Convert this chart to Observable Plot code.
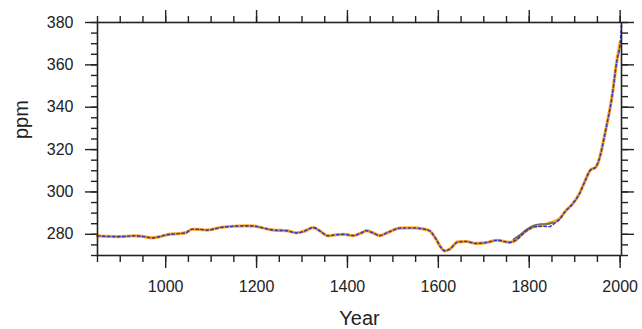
<!DOCTYPE html>
<html>
<head>
<meta charset="utf-8">
<script src="https://cdn.jsdelivr.net/npm/d3@7"></script>
<script src="https://cdn.jsdelivr.net/npm/@observablehq/plot@0.6"></script>
<style>
  html, body { margin: 0; padding: 0; background: #fff; }
  #chart svg { display: block; }
</style>
</head>
<body>
<div id="chart"></div>
<script>
// Orange (thick) reconstruction
const orangeYears = [850, 875, 900, 930, 950, 970, 985, 1003, 1032, 1045, 1058, 1075, 1091, 1120, 1150, 1175, 1195, 1210, 1237, 1266, 1288, 1305, 1325, 1340, 1357, 1375, 1393, 1413, 1430, 1442, 1455, 1471, 1490, 1515, 1543, 1565, 1581, 1595, 1605, 1614, 1625, 1643, 1661, 1683, 1705, 1730, 1756, 1767, 1792, 1814, 1830, 1844, 1866, 1880, 1895, 1910, 1920, 1935, 1946, 1953, 1968, 1982, 1993, 2000];
const orangePpm   = [279.3, 279.0, 278.9, 279.3, 279.0, 278.3, 278.8, 279.8, 280.4, 280.8, 282.4, 282.3, 282.0, 283.2, 283.8, 284.0, 283.9, 283.2, 282.0, 281.7, 280.7, 281.5, 283.2, 281.5, 279.3, 279.8, 280.0, 279.4, 280.6, 281.7, 280.8, 279.4, 281.0, 282.9, 283.0, 282.6, 281.6, 277.7, 274.0, 272.2, 273.0, 276.4, 276.6, 275.7, 276.1, 277.2, 276.2, 276.8, 281.5, 284.0, 284.3, 285.3, 287.2, 291.0, 294.3, 299.0, 303.8, 310.4, 311.6, 314.8, 329.0, 344.8, 362.2, 370.5];
// Blue (dashed) series
const blueYears = [850, 875, 900, 930, 950, 970, 985, 1003, 1032, 1045, 1058, 1075, 1091, 1120, 1150, 1175, 1195, 1210, 1237, 1266, 1288, 1305, 1325, 1340, 1357, 1375, 1393, 1413, 1430, 1442, 1455, 1471, 1490, 1515, 1543, 1565, 1581, 1595, 1605, 1614, 1625, 1643, 1661, 1683, 1705, 1730, 1756, 1767, 1792, 1814, 1830, 1844, 1856, 1866, 1880, 1895, 1910, 1920, 1935, 1946, 1953, 1968, 1982, 1993, 2000, 2003];
const bluePpm   = [279.3, 279.0, 278.9, 279.3, 279.0, 278.3, 278.8, 279.8, 280.4, 280.8, 282.4, 282.3, 282.0, 283.2, 283.8, 284.0, 283.9, 283.2, 282.0, 281.7, 280.7, 281.5, 283.2, 281.5, 279.3, 279.8, 280.0, 279.4, 280.6, 281.7, 280.8, 279.4, 281.0, 282.9, 283.0, 282.6, 281.6, 277.7, 274.0, 272.2, 273.0, 276.4, 276.6, 275.7, 276.1, 277.2, 276.2, 276.8, 281.3, 283.6, 283.8, 283.6, 285.3, 287.0, 291.0, 294.3, 299.0, 303.8, 310.4, 311.6, 314.8, 329.0, 344.8, 362.2, 370.0, 379.5];
// Gray series
const grayYears = [1765, 1780, 1795, 1810, 1825, 1840, 1852];
const grayPpm   = [277.6, 279.8, 282.4, 284.2, 284.9, 284.9, 285.6];

const xMajor = [1000, 1200, 1400, 1600, 1800, 2000];
const xMinor = d3.range(850, 2001, 50);
const yMajor = [280, 300, 320, 340, 360, 380];
const yMinor = d3.range(270, 381, 5);

const toRows = (xs, ys) => xs.map((x, i) => ({x, y: ys[i]}));
const orange = toRows(orangeYears, orangePpm);
const blue = toRows(blueYears, bluePpm);
const gray = toRows(grayYears, grayPpm);

const axisStyle = {stroke: "#222", strokeWidth: 1.4, fontSize: 16, fill: "#222", label: null};

const chart = Plot.plot({
  width: 642,
  height: 329,
  marginLeft: 97,
  marginRight: 21,
  marginTop: 22,
  marginBottom: 74,
  style: {fontFamily: "Liberation Sans, Arial, Helvetica, sans-serif", background: "#fff"},
  x: {domain: [850, 2003], label: null},
  y: {domain: [270, 380], label: null},
  marks: [
    Plot.axisX(xMinor, {anchor: "bottom", tickSize: 7, tickFormat: () => "", ...axisStyle}),
    Plot.axisX(xMinor, {anchor: "top", tickSize: 7, tickFormat: () => "", ...axisStyle}),
    Plot.axisX(xMajor, {anchor: "bottom", tickSize: 13, tickPadding: 12, tickFormat: d => String(d), ...axisStyle}),
    Plot.axisX(xMajor, {anchor: "top", tickSize: 13, tickFormat: () => "", ...axisStyle}),
    Plot.axisY(yMinor, {anchor: "left", tickSize: 6, tickFormat: () => "", ...axisStyle}),
    Plot.axisY(yMinor, {anchor: "right", tickSize: 6, tickFormat: () => "", ...axisStyle}),
    Plot.axisY(yMajor, {anchor: "left", tickSize: 12, tickPadding: 12, tickFormat: d => String(d), ...axisStyle}),
    Plot.axisY(yMajor, {anchor: "right", tickSize: 12, tickFormat: () => "", ...axisStyle}),
    Plot.line(orange, {x: "x", y: "y", stroke: "#ffaa22", strokeWidth: 3.2, curve: "monotone-x"}),
    Plot.line(gray, {x: "x", y: "y", stroke: "#666666", strokeWidth: 1.6, curve: "monotone-x"}),
    Plot.line(blue, {x: "x", y: "y", stroke: "#3a3ab8", strokeWidth: 1.6, strokeDasharray: "2.5,2.5", curve: "monotone-x"}),
    Plot.frame({stroke: "#222", strokeWidth: 1.6}),
    Plot.text(["Year"], {frameAnchor: "bottom", dy: 63, fontSize: 20, fill: "#222", lineAnchor: "middle"}),
    Plot.text(["ppm"], {frameAnchor: "left", dx: -76, rotate: -90, fontSize: 20, fill: "#222", lineAnchor: "middle"})
  ]
});
document.getElementById("chart").appendChild(chart);
</script>
</body>
</html>
